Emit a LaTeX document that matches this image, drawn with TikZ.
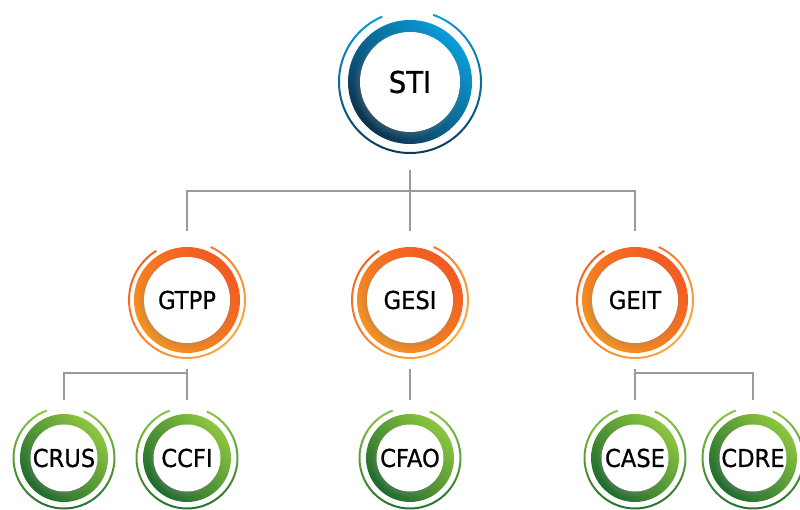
\documentclass[tikz,border=0pt]{standalone}
\usepackage{fontspec}
\newfontfamily\unitfont{DejaVu Sans}[FakeStretch=0.92, FakeBold=0.8]
\usetikzlibrary{shadows}
\definecolor{stiblue}{HTML}{0A9DD9}
\definecolor{stinavy}{HTML}{0B3350}
\definecolor{gered}{HTML}{F15A24}
\definecolor{geyellow}{HTML}{F7931E}
\definecolor{halored}{HTML}{F26522}
\definecolor{haloyellow}{HTML}{FBB03B}
\definecolor{cgreen}{HTML}{8DC63F}
\definecolor{cdark}{HTML}{1E6B2E}
\definecolor{linkgray}{HTML}{9A9A9A}
\tikzset{link/.style={draw=linkgray, line width=1pt},
  unit/.style={circle, inner sep=0pt, text=black, font=\unitfont\fontsize{14}{16}\selectfont},
  top unit/.style={unit, minimum size=3.52cm, font=\unitfont\fontsize{17}{20}\selectfont},
  mid unit/.style={unit, minimum size=2.76cm},
  leaf unit/.style={unit, minimum size=2.32cm},
  disc/.style={fill=white, circular drop shadow={shadow scale=1.1, shadow xshift=-0.04cm, shadow yshift=-0.04cm, opacity=0.35}},
  ring blue/.style={top color=stiblue, bottom color=stinavy, shading angle=-45},
  halo blue/.style={top color=stiblue, bottom color=stinavy},
  ring orange/.style={top color=gered, bottom color=geyellow, shading angle=-45},
  halo orange/.style={top color=halored, bottom color=haloyellow, shading angle=45},
  ring green/.style={top color=cgreen, bottom color=cdark, shading angle=-45},
  halo green/.style={top color=cgreen, bottom color=cdark}}

\begin{document}
\begin{tikzpicture}
  \useasboundingbox (0,0) rectangle (16,10.2);
  % top
  \begin{scope}[shift={(8.20,8.56)}]
    \shade[ring blue] (0,0) circle (1.24);
    \fill[disc] (0,0) circle (1.00);
    \shade[halo blue] (113:1.44) arc[start angle=113, end angle=431, radius=1.44]
      -- ++(71:-0.04) arc[start angle=431, end angle=113, radius=1.40] -- cycle;
    \node[top unit] (sti) at (0,0) {STI};
  \end{scope}
  % middle row
  \begin{scope}[shift={(3.74,4.20)}]
    \shade[ring orange] (0,0) circle (1.06);
    \fill[disc] (0,0) circle (0.86);
    \shade[halo orange] (122:1.18) arc[start angle=122, end angle=426, radius=1.18]
      -- ++(66:-0.04) arc[start angle=426, end angle=122, radius=1.14] -- cycle;
    \node[mid unit] (gtpp) at (0,0) {GTPP};
  \end{scope}
  \begin{scope}[shift={(8.20,4.20)}]
    \shade[ring orange] (0,0) circle (1.06);
    \fill[disc] (0,0) circle (0.86);
    \shade[halo orange] (122:1.18) arc[start angle=122, end angle=426, radius=1.18]
      -- ++(66:-0.04) arc[start angle=426, end angle=122, radius=1.14] -- cycle;
    \node[mid unit] (gesi) at (0,0) {GESI};
  \end{scope}
  \begin{scope}[shift={(12.70,4.20)}]
    \shade[ring orange] (0,0) circle (1.06);
    \fill[disc] (0,0) circle (0.86);
    \shade[halo orange] (122:1.18) arc[start angle=122, end angle=426, radius=1.18]
      -- ++(66:-0.04) arc[start angle=426, end angle=122, radius=1.14] -- cycle;
    \node[mid unit] (geit) at (0,0) {GEIT};
  \end{scope}
  % bottom row
  \begin{scope}[shift={(1.28,1.04)}]
    \shade[ring green] (0,0) circle (0.88);
    \fill[disc] (0,0) circle (0.67);
    \shade[halo green] (110:1.03) arc[start angle=110, end angle=427, radius=1.03]
      -- ++(67:-0.04) arc[start angle=427, end angle=110, radius=0.99] -- cycle;
    \node[leaf unit] (crus) at (0,0) {CRUS};
  \end{scope}
  \begin{scope}[shift={(3.74,1.04)}]
    \shade[ring green] (0,0) circle (0.88);
    \fill[disc] (0,0) circle (0.67);
    \shade[halo green] (110:1.03) arc[start angle=110, end angle=427, radius=1.03]
      -- ++(67:-0.04) arc[start angle=427, end angle=110, radius=0.99] -- cycle;
    \node[leaf unit] (ccfi) at (0,0) {CCFI};
  \end{scope}
  \begin{scope}[shift={(8.20,1.04)}]
    \shade[ring green] (0,0) circle (0.88);
    \fill[disc] (0,0) circle (0.67);
    \shade[halo green] (110:1.03) arc[start angle=110, end angle=427, radius=1.03]
      -- ++(67:-0.04) arc[start angle=427, end angle=110, radius=0.99] -- cycle;
    \node[leaf unit] (cfao) at (0,0) {CFAO};
  \end{scope}
  \begin{scope}[shift={(12.70,1.04)}]
    \shade[ring green] (0,0) circle (0.88);
    \fill[disc] (0,0) circle (0.67);
    \shade[halo green] (110:1.03) arc[start angle=110, end angle=427, radius=1.03]
      -- ++(67:-0.04) arc[start angle=427, end angle=110, radius=0.99] -- cycle;
    \node[leaf unit] (case) at (0,0) {CASE};
  \end{scope}
  \begin{scope}[shift={(15.06,1.04)}]
    \shade[ring green] (0,0) circle (0.88);
    \fill[disc] (0,0) circle (0.67);
    \shade[halo green] (110:1.03) arc[start angle=110, end angle=427, radius=1.03]
      -- ++(67:-0.04) arc[start angle=427, end angle=110, radius=0.99] -- cycle;
    \node[leaf unit] (cdre) at (0,0) {CDRE};
  \end{scope}
  % links
  \coordinate (top bar) at (8.20,6.38);
  \coordinate (low bar) at (0,2.74);
  \draw[link] (sti.south) -- (gesi.north);
  \draw[link] (gtpp.north) |- (top bar) -| (geit.north);
  \draw[link] (gtpp.south) -- (ccfi.north);
  \draw[link] (crus.north) |- (ccfi.north |- low bar);
  \draw[link] (gesi.south) -- (cfao.north);
  \draw[link] (geit.south) -- (case.north);
  \draw[link] (cdre.north) |- (case.north |- low bar);
\end{tikzpicture}
\end{document}
